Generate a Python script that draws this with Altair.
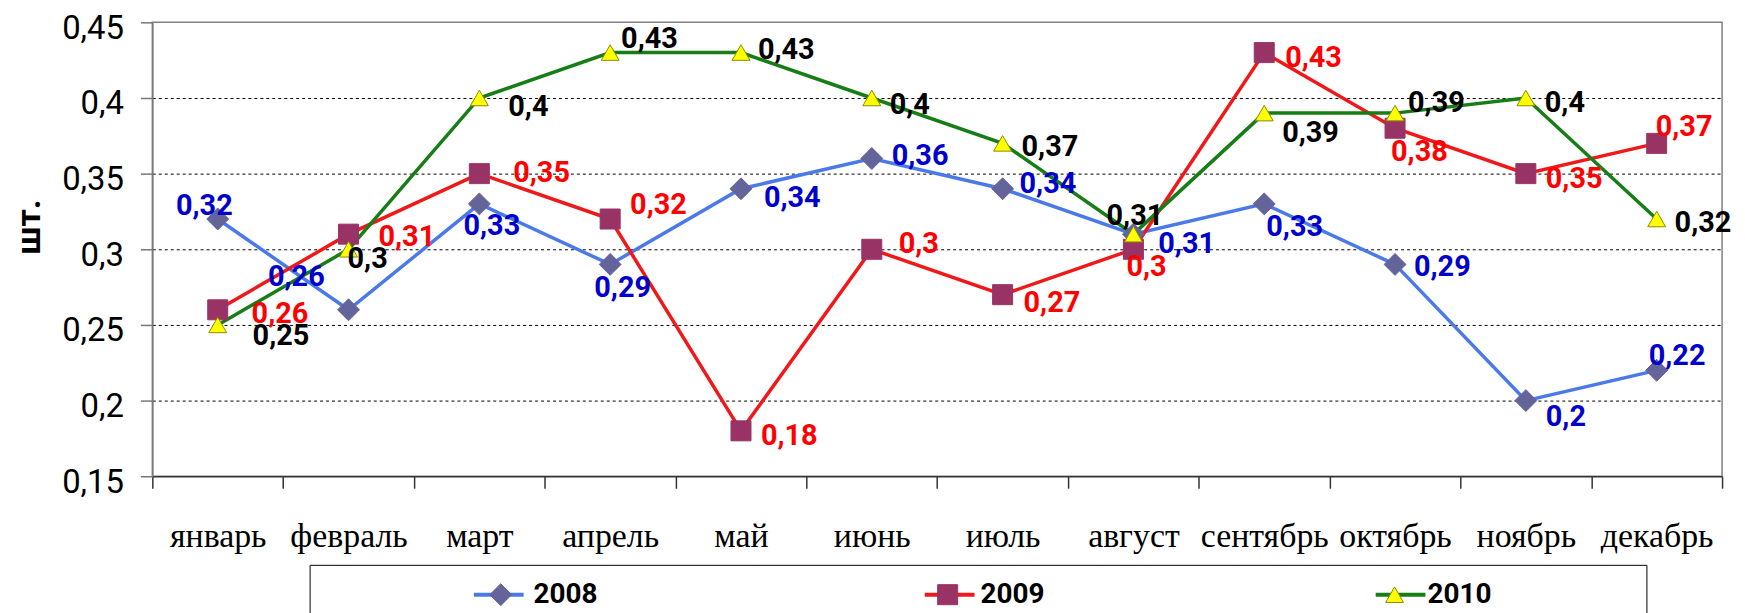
import altair as alt
import pandas as pd

months = ["январь", "февраль", "март", "апрель", "май", "июнь",
          "июль", "август", "сентябрь", "октябрь", "ноябрь", "декабрь"]
years = ["2008", "2009", "2010"]
v2008 = [0.32, 0.26, 0.33, 0.29, 0.34, 0.36, 0.34, 0.31, 0.33, 0.29, 0.20, 0.22]
v2009 = [0.26, 0.31, 0.35, 0.32, 0.18, 0.30, 0.27, 0.30, 0.43, 0.38, 0.35, 0.37]
v2010 = [0.25, 0.30, 0.40, 0.43, 0.43, 0.40, 0.37, 0.31, 0.39, 0.39, 0.40, 0.32]
y_ticks = [0.15, 0.2, 0.25, 0.3, 0.35, 0.4, 0.45]

series_values = {"2008": v2008, "2009": v2009, "2010": v2010}

# styling
line_colors = ["#4a7aea", "#f01818", "#177d17"]
marker_shapes = ["diamond", "square", "triangle-up"]
marker_fill = ["#64649a", "#993366", "#ffff00"]
marker_stroke = ["#64649a", "#993366", "#8b8b00"]
marker_size = [484, 324, 400]
label_colors = {"2008": "#0000cc", "2009": "#ff0000", "2010": "#000000"}

# data-label nudges in pixels (Excel-like label placement)
label_dx = {
    "2008": [-42, -81, -16, -16, 23, 20, 17, 25, 2, 19, 20, -8],
    "2009": [34, 30, 34, 20, 20, 27, 21, -7, 21, -4, 20, -1],
    "2010": [35, -1, 29, 11, 17, 18, 19, -27, 18, 13, 19, 18],
}
label_dy = {
    "2008": [-13, -33, 22, 24, 9, -2, -5, 10, 23, 3, 17, -14],
    "2009": [4, 3, -1, -14, 5, -5, 8, 18, 5, 24, 5, -16],
    "2010": [11, 10, 9, -14, -3, 7, 4, -18, 20, -10, 5, 4],
}

rows = []
for y in years:
    for m, v in zip(months, series_values[y]):
        rows.append({"month": m, "year": y, "year_m": y, "value": v,
                     "label": f"{v:g}".replace(".", ",")})
df = pd.DataFrame(rows)

x_enc = alt.X(
    "month:N", sort=months,
    scale=alt.Scale(type="band", paddingInner=0, paddingOuter=0),
    axis=alt.Axis(
        title=None, tickBand="extent", tickSize=12, tickColor="#333333", tickWidth=1.5,
        domainColor="#333333", domainWidth=1.5, labelFont="Liberation Serif",
        labelFontSize=34, labelColor="black", labelBaseline="alphabetic",
        labelPadding=59, labelAngle=0, labelOverlap=False, labelFlush=False, grid=False,
    ),
)
y_enc = alt.Y(
    "value:Q",
    scale=alt.Scale(domain=[0.15, 0.45], nice=False, zero=False),
    axis=alt.Axis(
        values=y_ticks,
        labelExpr="replace(format(datum.value, '.2~f'), '.', ',')",
        tickSize=12, tickColor="#777777", tickWidth=1.5, domainColor="#777777", domainWidth=1.5,
        labelFont="Roboto", labelFontSize=33, labelColor="black", labelPadding=17,
        labelBaseline="alphabetic", labelOffset=16, labelFlush=False, labelOverlap=False,
        title="шт.", titleFont="Roboto", titleFontWeight="bold", titleFontSize=34,
        titleColor="black", titleAngle=270, titleX=-113, titleY=205, titleAlign="center",
        titleBaseline="alphabetic",
        grid=True, gridColor="black", gridDash=[3, 3], gridWidth=1,
        gridOpacity={"condition": {"test": "datum.value > 0.44 || datum.value < 0.16", "value": 0},
                     "value": 1},
    ),
)

# last legend label is widened with no-break spaces (kept by a trailing zero-width char)
pad_2010 = "2010" + "\u00a0" * 20 + "\u200b"
legend_label_expr = f"datum.label == '2010' ? '{pad_2010}' : datum.label"

common_legend = dict(
    orient="none", direction="horizontal", columns=3,
    labelFont="Roboto", labelFontWeight="bold", labelFontSize=28, labelColor="black",
    labelLimit=500, title=" ", titleOrient="left", titleFontSize=10,
)
# line part of the legend symbols (no box, hidden labels)
line_legend = alt.Legend(
    legendX=160, legendY=534, padding=14, titlePadding=147, columnPadding=321,
    symbolType="stroke", symbolSize=2500, symbolStrokeWidth=4,
    labelOffset=7, labelOpacity=0, zindex=0,
    **common_legend,
)
# marker part + labels + frame
marker_legend = alt.Legend(
    legendX=158, legendY=545, padding=16, titlePadding=162, columnPadding=337,
    symbolStrokeWidth=1, labelOffset=19, symbolOpacity=1, strokeColor="black",
    labelExpr=legend_label_expr, zindex=1,
    **common_legend,
)

base = alt.Chart(df)

lines = base.mark_line(strokeWidth=3.5).encode(
    x=x_enc, y=y_enc,
    color=alt.Color("year:N", scale=alt.Scale(range=line_colors), legend=line_legend),
)
points = base.mark_point(filled=True, opacity=1, strokeWidth=1).encode(
    x=x_enc, y=y_enc,
    shape=alt.Shape("year_m:N", scale=alt.Scale(range=marker_shapes), legend=marker_legend),
    fill=alt.Fill("year_m:N", scale=alt.Scale(range=marker_fill), legend=marker_legend),
    stroke=alt.Stroke("year_m:N", scale=alt.Scale(range=marker_stroke), legend=marker_legend),
    size=alt.Size("year_m:N", scale=alt.Scale(range=marker_size), legend=marker_legend),
)

label_layers = []
for y in years:
    for i, m in enumerate(months):
        label_layers.append(
            base.transform_filter(f"datum.year == '{y}' && datum.month == '{m}'")
            .mark_text(align="left", baseline="middle", dx=label_dx[y][i], dy=label_dy[y][i],
                       font="Roboto", fontWeight="bold", fontSize=29, color=label_colors[y])
            .encode(x=x_enc, y=y_enc, text="label:N")
        )

chart = alt.layer(lines, points, *label_layers).properties(
    width=1577, height=456,
    autosize=alt.AutoSizeParams(type="none"),
    padding={"left": 145, "top": 13, "right": 15, "bottom": 136},
    background="white",
).configure_view(stroke="#808080", strokeWidth=1.5)

chart.save("out.html", embed_options={"renderer": "svg", "actions": False})
